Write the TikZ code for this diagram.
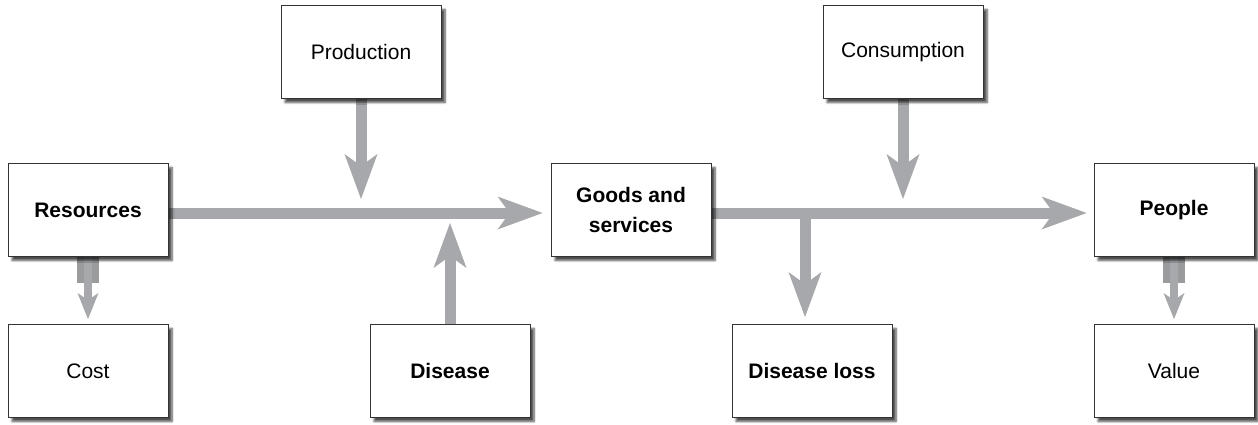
\documentclass[tikz,border=0pt]{standalone}
\usepackage{fontspec}
\setmainfont{Liberation Sans}
\usetikzlibrary{arrows.meta, positioning, backgrounds, shadows.blur}
\definecolor{flowgray}{HTML}{A7A8AB}
\definecolor{boxline}{HTML}{333333}

\begin{document}
\begin{tikzpicture}[x=1pt, y=-1pt,
  every node/.style={rectangle, draw=boxline, line width=0.9pt, fill=white,
    minimum width=160pt, minimum height=93pt, inner sep=0pt, align=center,
    font=\fontsize{21}{30}\selectfont,
    blur shadow={shadow xshift=4pt, shadow yshift=-4pt, shadow blur steps=6, shadow opacity=70}},
  flow/.style={draw=flowgray, line width=11pt,
    -{Stealth[length=45pt, width=33pt, inset=12pt, line width=0pt, flowgray]}},
  minor/.style={draw=flowgray, line width=8pt,
    -{Stealth[length=26pt, width=21pt, inset=7pt, line width=0pt, flowgray]}}
]
\useasboundingbox (0,0) rectangle (1258,425);

\node (res)   at (88,210)   {\textbf{Resources}};
\node (cost)  at (88,371)   {Cost};
\node (prod)  at (361,52)   {Production};
\node (dis)   at (450,371)  {\textbf{Disease}};
\node (goods) at (631,210)  {\textbf{Goods and}\\\textbf{services}};
\node (cons)  at (903,52)   {Consumption};
\node (loss)  at (812,371)  {\textbf{Disease loss}};
\node (ppl)   at (1174,210) {\textbf{People}};
\node (val)   at (1174,371) {Value};

\coordinate (prodtip) at (361,199);
\coordinate (distip)  at (450,223);
\coordinate (constip) at (903,199);
\coordinate (split)   at (805,213);

\begin{scope}[on background layer]
\draw[flow] ([yshift=-3pt]res.east) -- ([xshift=-8pt, yshift=-3pt]goods.west);
\draw[flow] (prod.south) -- (prodtip);
\draw[flow] (dis.north) -- (distip);
\draw[flow] ([yshift=-3pt]goods.east) -- ([xshift=-7pt, yshift=-3pt]ppl.west);
\draw[flow] (cons.south) -- (constip);
\draw[flow] (split) -- ([yshift=7pt]split |- loss.north);
\fill[flowgray!92!black] ([xshift=-11pt]res.south) rectangle ([xshift=11pt, yshift=-26pt]res.south);
\fill[flowgray!92!black] ([xshift=-11pt]ppl.south) rectangle ([xshift=11pt, yshift=-26pt]ppl.south);
\draw[minor] (res.south) -- ([yshift=5pt]cost.north);
\draw[minor] (ppl.south) -- ([yshift=5pt]val.north);
\end{scope}
\end{tikzpicture}
\end{document}
